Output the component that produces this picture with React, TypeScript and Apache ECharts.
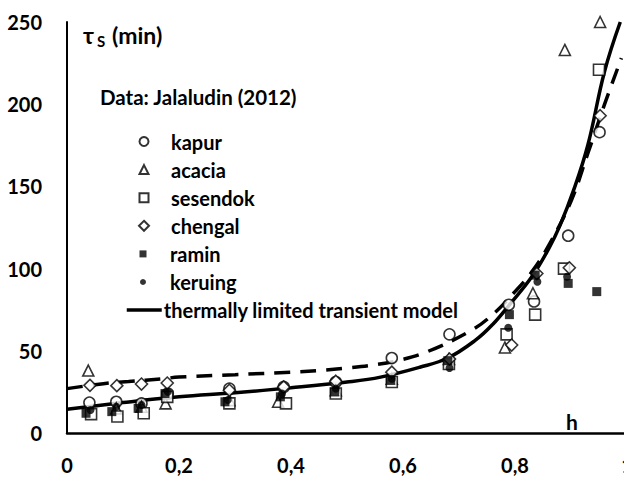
import React, { useEffect, useRef } from 'react';
import * as echarts from 'echarts';

const FONT = 'Lato, "Liberation Sans", sans-serif';

// tick labels
const xTickLabels = ['0', '0,2', '0,4', '0,6', '0,8', '1'];
const yTickLabels = ['0', '50', '100', '150', '200', '250'];

// data (h, tau_s in min), Jalaludin (2012)
const kapur = [[0.04, 18.5], [0.088, 19], [0.133, 18], [0.18, 24], [0.29, 27], [0.387, 28], [0.48, 31], [0.58, 45.6], [0.683, 60], [0.789, 78], [0.834, 80], [0.895, 120], [0.951, 183]];
const acacia = [[0.038, 38], [0.088, 15], [0.133, 16], [0.176, 18], [0.29, 20], [0.377, 19], [0.48, 26], [0.58, 33], [0.682, 45], [0.782, 52], [0.832, 85], [0.889, 233], [0.952, 250]];
const sesendok = [[0.043, 11.5], [0.09, 10], [0.137, 12], [0.179, 22], [0.29, 18], [0.391, 18], [0.48, 24], [0.58, 31], [0.682, 42], [0.785, 60], [0.836, 72], [0.8875, 100], [0.95, 221]];
const chengal = [[0.041, 29], [0.089, 28.8], [0.133, 29.8], [0.179, 30.4], [0.29, 26], [0.387, 28], [0.48, 31.5], [0.58, 37], [0.683, 45], [0.794, 53.5], [0.839, 97], [0.897, 100.5], [0.952, 193]];
const ramin = [[0.034, 12], [0.08, 13], [0.127, 15], [0.175, 24], [0.282, 19], [0.381, 22], [0.478, 25], [0.578, 32], [0.68, 44], [0.79, 72], [0.836, 96], [0.895, 91], [0.946, 86]];
const keruing = [[0.042, 14], [0.088, 16], [0.133, 17], [0.18, 25], [0.287, 20], [0.384, 24], [0.48, 27], [0.58, 33], [0.683, 39.5], [0.788, 64], [0.84, 92], [0.893, 95]];

// model curves
const modelSolid = [[0, 14.5], [0.1, 18.5], [0.2, 22], [0.3, 24.5], [0.4, 27.5], [0.5, 31], [0.56, 34], [0.63, 40], [0.68, 45.6], [0.73, 56.6], [0.76, 66], [0.79, 78], [0.83, 95], [0.86, 112], [0.88, 126], [0.905, 148], [0.93, 175], [0.96, 220], [0.988, 250]];
const modelDashed = [[0, 27], [0.065, 30], [0.11, 31.3], [0.17, 33], [0.2, 34], [0.3, 35.5], [0.4, 37], [0.45, 38], [0.5, 39.5], [0.55, 41.5], [0.59, 44], [0.64, 49], [0.72, 62], [0.76, 72], [0.8, 86], [0.83, 98], [0.86, 114], [0.9, 141], [0.93, 170], [0.96, 200], [0.99, 228]];

const modelName = 'thermally limited transient model';

const markerDefs = [
  { name: 'kapur', data: kapur, symbol: 'circle', size: 11, legendSize: 9, filled: false },
  { name: 'acacia', data: acacia, symbol: 'triangle', size: 11, legendSize: 9, filled: false },
  { name: 'sesendok', data: sesendok, symbol: 'rect', size: 11, legendSize: 9, filled: false },
  { name: 'chengal', data: chengal, symbol: 'diamond', size: 12, legendSize: 10, filled: false },
  { name: 'ramin', data: ramin, symbol: 'rect', size: 9, legendSize: 7, filled: true },
  { name: 'keruing', data: keruing, symbol: 'circle', size: 8, legendSize: 6, filled: true },
];

export default function App() {
  const ref = useRef<HTMLDivElement>(null);
  useEffect(() => {
    if (!ref.current) return;
    const chart = echarts.init(ref.current, null, { renderer: 'svg' });

    const textStyle = { color: '#000', fontFamily: FONT, fontWeight: 'bold' as const, fontSize: 20, lineHeight: 20 };

    const legendFirstY = 141.5;
    const legendPitch = 28.1;
    const iconCx = 143;
    const textX = 170;

    const legends: any[] = markerDefs.map((m, i) => ({
      data: [m.name],
      orient: 'vertical',
      left: iconCx - m.legendSize / 2,
      top: legendFirstY + i * legendPitch - 10,
      padding: 0,
      itemWidth: m.legendSize,
      itemHeight: m.legendSize,
      selectedMode: false,
      textStyle: { ...textStyle, padding: [0, 0, 0, textX - (iconCx + m.legendSize / 2 + 5)] },
    }));
    legends.push({
      data: [{ name: modelName, itemStyle: { opacity: 0 }, lineStyle: { width: 3.5, color: '#000' } }],
      left: 125,
      top: legendFirstY + 6 * legendPitch - 10,
      padding: 0,
      itemWidth: 35,
      itemHeight: 12,
      selectedMode: false,
      lineStyle: { width: 3.5, color: '#000' },
      textStyle: { ...textStyle, padding: [0, 0, 0, -3] },
    });

    const series: any[] = markerDefs.map((m) => ({
      type: 'scatter',
      name: m.name,
      data: m.data,
      symbol: m.symbol,
      symbolSize: m.size,
      clip: false,
      itemStyle: m.filled
        ? { color: '#000', borderColor: '#000', borderWidth: 0 }
        : { color: '#fff', borderColor: '#000', borderWidth: 1.6 },
      z: 3,
    }));
    series.push({
      type: 'line',
      name: modelName,
      data: modelSolid,
      smooth: 0.4,
      symbol: 'none',
      color: '#000',
      itemStyle: { color: '#000' },
      lineStyle: { color: '#000', width: 3.5 },
      z: 2,
    });
    series.push({
      type: 'line',
      name: 'dashed model',
      data: modelDashed,
      smooth: 0.4,
      symbol: 'none',
      color: '#000',
      lineStyle: { color: '#000', width: 3.5, type: [16, 10] },
      z: 2,
    });

    chart.setOption({
      animation: false,
      backgroundColor: '#fff',
      grid: { left: 67, right: -3, top: 22, bottom: 45, containLabel: false, outerBoundsMode: 'none' },
      xAxis: {
        type: 'value',
        min: 0,
        max: 1,
        interval: 0.2,
        axisLine: { show: true, lineStyle: { color: '#000', width: 2.5 } },
        axisTick: { show: false },
        splitLine: { show: false },
        axisLabel: {
          margin: 22,
          color: '#000',
          fontFamily: FONT,
          fontWeight: 'bold',
          fontSize: 20,
          hideOverlap: false,
          formatter: (_v: number, i: number) => xTickLabels[i],
        },
      },
      yAxis: {
        type: 'value',
        min: 0,
        max: 250,
        interval: 50,
        axisLine: { show: true, lineStyle: { color: '#000', width: 2 } },
        axisTick: { show: false },
        splitLine: { show: false },
        axisLabel: {
          margin: 25,
          color: '#000',
          fontFamily: FONT,
          fontWeight: 'bold',
          fontSize: 20,
          formatter: (_v: number, i: number) => yTickLabels[i],
        },
      },
      legend: legends,
      graphic: [
        { type: 'text', x: 83, y: 35, style: { text: 'τ', fill: '#000', font: `bold 23px ${FONT}`, verticalAlign: 'middle' } },
        { type: 'text', x: 97, y: 41, style: { text: 'S', fill: '#000', font: `bold 15px ${FONT}`, verticalAlign: 'middle' } },
        { type: 'text', x: 112, y: 35, style: { text: '(min)', fill: '#000', font: `bold 23px ${FONT}`, verticalAlign: 'middle' } },
        { type: 'text', x: 100, y: 97, style: { text: 'Data: Jalaludin (2012)', fill: '#000', font: `bold 20.5px ${FONT}`, verticalAlign: 'middle' } },
        { type: 'text', x: 566, y: 421, style: { text: 'h', fill: '#000', font: `bold 21px ${FONT}`, verticalAlign: 'middle' } },
      ],
      series,
    });
    return () => chart.dispose();
  }, []);
  return <div ref={ref} style={{ position: 'absolute', left: 0, top: 0, width: 624, height: 478, background: '#fff' }} />;
}
